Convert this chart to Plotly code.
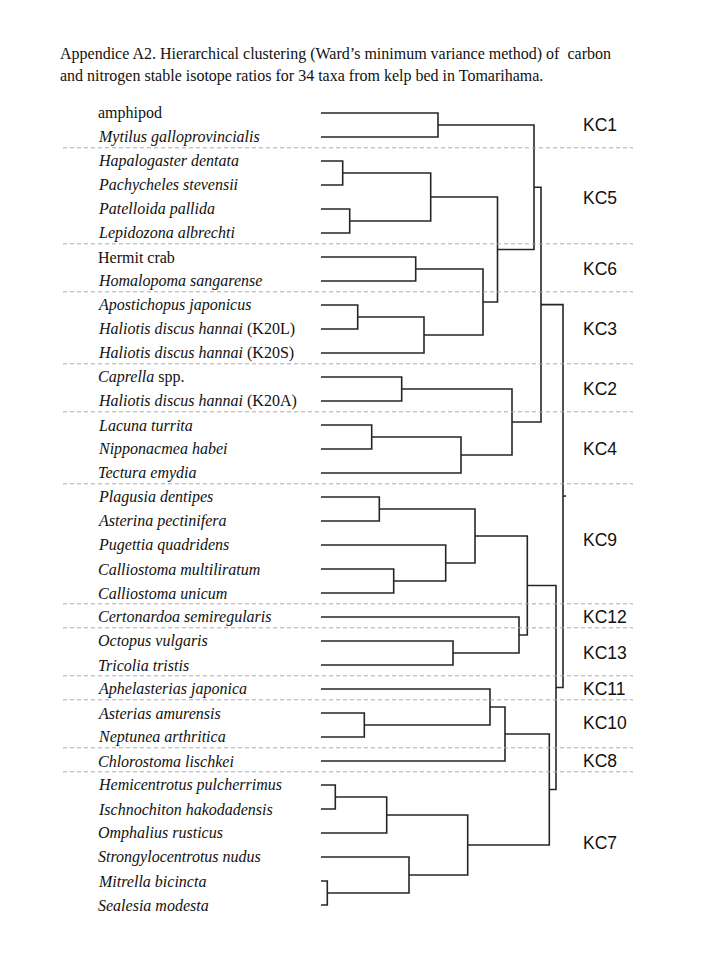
import plotly.graph_objects as go

# ---------------- data ----------------
title_lines = [
    "Appendice A2. Hierarchical clustering (Ward’s minimum variance method) of  carbon",
    "and nitrogen stable isotope ratios for 34 taxa from kelp bed in Tomarihama.",
]

leaf_labels = [
    "amphipod",
    "<i>Mytilus galloprovincialis</i>",
    "<i>Hapalogaster dentata</i>",
    "<i>Pachycheles stevensii</i>",
    "<i>Patelloida pallida</i>",
    "<i>Lepidozona albrechti</i>",
    "Hermit crab",
    "<i>Homalopoma sangarense</i>",
    "<i>Apostichopus japonicus</i>",
    "<i>Haliotis discus hannai</i> (K20L)",
    "<i>Haliotis discus hannai</i> (K20S)",
    "<i>Caprella</i> spp.",
    "<i>Haliotis discus hannai</i> (K20A)",
    "<i>Lacuna turrita</i>",
    "<i>Nipponacmea habei</i>",
    "<i>Tectura emydia</i>",
    "<i>Plagusia dentipes</i>",
    "<i>Asterina pectinifera</i>",
    "<i>Pugettia quadridens</i>",
    "<i>Calliostoma multiliratum</i>",
    "<i>Calliostoma unicum</i>",
    "<i>Certonardoa semiregularis</i>",
    "<i>Octopus vulgaris</i>",
    "<i>Tricolia tristis</i>",
    "<i>Aphelasterias japonica</i>",
    "<i>Asterias amurensis</i>",
    "<i>Neptunea arthritica</i>",
    "<i>Chlorostoma lischkei</i>",
    "<i>Hemicentrotus pulcherrimus</i>",
    "<i>Ischnochiton hakodadensis</i>",
    "<i>Omphalius rusticus</i>",
    "<i>Strongylocentrotus nudus</i>",
    "<i>Mitrella bicincta</i>",
    "<i>Sealesia modesta</i>",
]

# linkage (scipy style: index >= 34 refers to an earlier merge)
merge_left = [32, 28, 2, 4, 8, 25, 13, 16, 35, 19, 11, 31, 6, 38, 36, 0, 18,
              22, 40, 42, 41, 46, 24, 48, 56, 44, 21, 54, 49, 62, 58, 61, 63]
merge_right = [33, 29, 3, 5, 9, 26, 14, 17, 30, 20, 12, 34, 7, 10, 37, 1, 43,
               23, 15, 45, 50, 47, 39, 55, 27, 52, 51, 60, 57, 59, 53, 64, 65]
merge_height = [0.63, 1.43, 2.17, 2.87, 3.67, 4.33, 5.07, 5.83, 6.57, 7.27,
                8.07, 8.80, 9.47, 10.30, 10.97, 11.70, 12.47, 13.20, 14.00,
                14.67, 15.40, 16.20, 16.90, 17.65, 18.40, 19.10, 19.80, 20.63,
                21.30, 22.00, 22.83, 23.50, 24.20]

cluster_names = ["KC1", "KC5", "KC6", "KC3", "KC2", "KC4", "KC9", "KC12",
                 "KC13", "KC11", "KC10", "KC8", "KC7"]
cluster_first = [0, 2, 6, 8, 11, 13, 16, 21, 22, 24, 25, 27, 28]
cluster_last = [1, 5, 7, 10, 12, 15, 20, 21, 23, 24, 26, 27, 33]
cluster_label_row = [0.5, 3.55, 6.5, 9.0, 11.5, 14.0, 17.8, 21.0, 22.5, 24.0,
                     25.4, 27.0, 30.4]

# ---------------- layout helpers ----------------
PAGE_OFF = 8                     # browser body margin
W, H = 720 - PAGE_OFF, 960 - PAGE_OFF
px_per_unit = 10.0
x0_px = 321.0 - PAGE_OFF         # pixel of height 0 (inside the figure)
y0_px, row_px = 113.0 - PAGE_OFF, 24.0


def xu(px):
    """page pixel -> data x"""
    return (px - PAGE_OFF - x0_px) / px_per_unit


x_range = [(0 - x0_px) / px_per_unit, (W - x0_px) / px_per_unit]
y_range = [(H - y0_px) / row_px, (0 - y0_px) / row_px]

# ---------------- dendrogram ----------------
n = len(leaf_labels)
node_y = {i: float(i) for i in range(n)}
node_h = {i: 0.0 for i in range(n)}
xs, ys = [], []
for k, (a, b, h) in enumerate(zip(merge_left, merge_right, merge_height)):
    ya, yb = node_y[a], node_y[b]
    xs += [node_h[a], h, h, node_h[b], None]
    ys += [ya, ya, yb, yb, None]
    node_y[n + k] = (ya + yb) / 2
    node_h[n + k] = h
root = n + len(merge_height) - 1
xs += [node_h[root], node_h[root] + 0.3, None]
ys += [node_y[root], node_y[root], None]

fig = go.Figure()
fig.add_trace(go.Scatter(x=xs, y=ys, mode="lines",
                         line=dict(color="#262626", width=1.6),
                         hoverinfo="skip", showlegend=False))

shapes = []
for c in range(len(cluster_names) - 1):
    yb = cluster_last[c] + 0.5 - 0.05
    shapes.append(dict(type="line", xref="x", yref="y",
                       x0=xu(63), x1=xu(633), y0=yb, y1=yb,
                       line=dict(color="#a8a8a8", width=1, dash="4px,3px")))

annotations = []
for i, lab in enumerate(leaf_labels):
    annotations.append(dict(x=xu(96), y=i, xref="x", yref="y", text=lab,
                            xanchor="left", yanchor="middle", showarrow=False,
                            font=dict(family="Liberation Serif", size=16, color="#111")))
for name, r in zip(cluster_names, cluster_label_row):
    annotations.append(dict(x=xu(581), y=r, xref="x", yref="y", text=name,
                            xanchor="left", yanchor="middle", showarrow=False,
                            font=dict(family="Liberation Sans", size=17.5, color="#111")))
for j, t in enumerate(title_lines):
    annotations.append(dict(x=(58 - PAGE_OFF) / W, y=1 - (54 + 22 * j - PAGE_OFF) / H,
                            xref="paper", yref="paper",
                            text=t, xanchor="left", yanchor="middle", showarrow=False,
                            font=dict(family="Liberation Serif", size=16, color="#111")))

fig.update_layout(
    width=W, height=H,
    margin=dict(l=0, r=0, t=0, b=0),
    paper_bgcolor="white", plot_bgcolor="white",
    xaxis=dict(visible=False, range=x_range, fixedrange=True),
    yaxis=dict(visible=False, range=y_range, fixedrange=True),
    shapes=shapes, annotations=annotations, showlegend=False,
)

fig.write_html("out.html")
